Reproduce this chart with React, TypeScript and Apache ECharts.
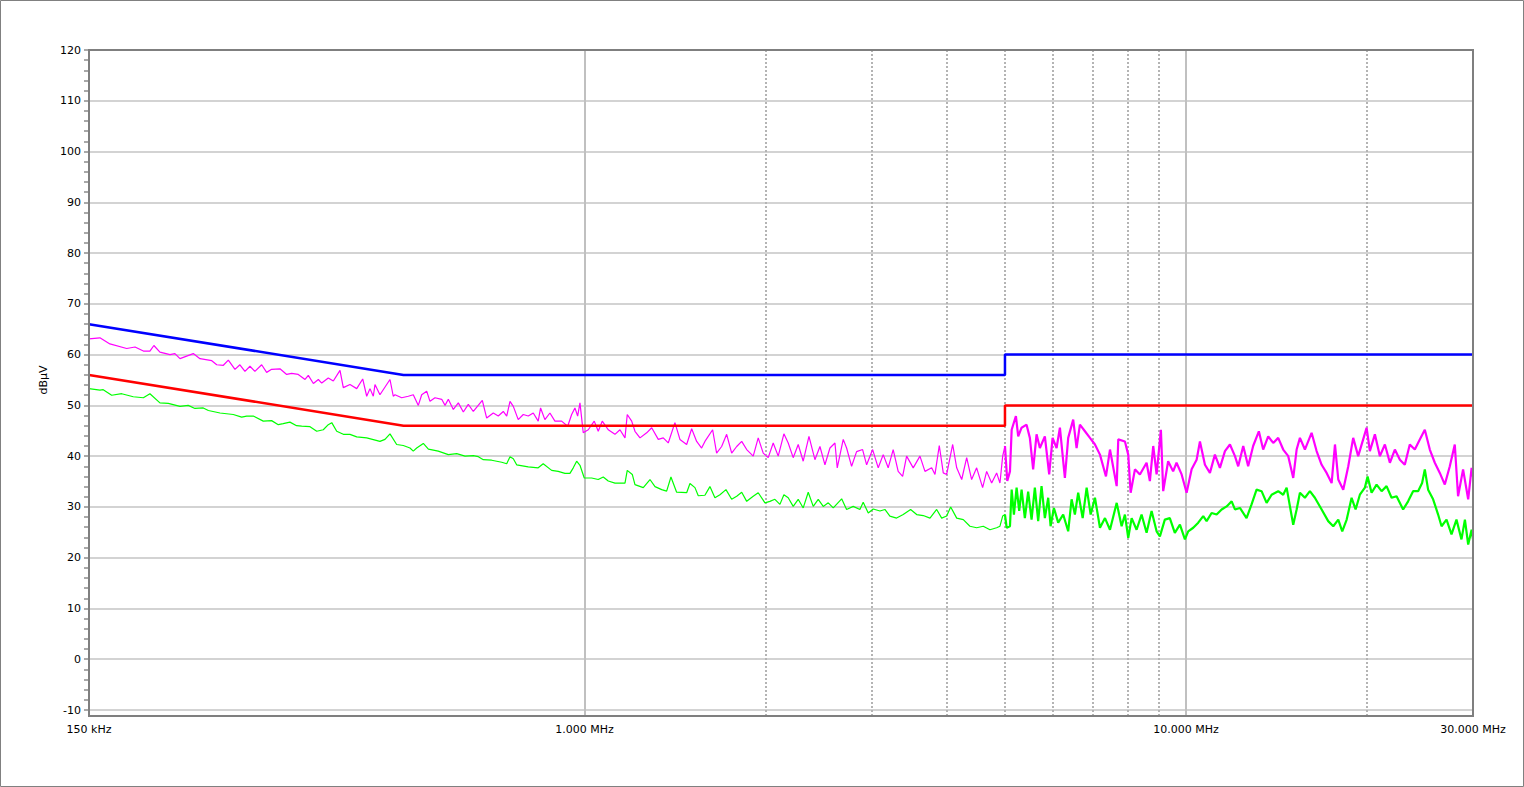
import React, { useEffect, useRef } from "react";
import * as echarts from "echarts";

// Frequencies in MHz, levels in dBµV
const X_LABEL_VALUES = [0.15, 1, 10, 30];
const SOLID_GRID_FREQ = [1, 10];
const DOTTED_GRID_FREQ = [2, 3, 4, 5, 6, 7, 8, 9, 20];
const BAND_START_MHZ = 5;

const QP_LIMIT: [number, number][] = [[0.15, 66], [0.5, 56], [5, 56], [5, 60], [30, 60]];
const AV_LIMIT: [number, number][] = [[0.15, 56], [0.5, 46], [5, 46], [5, 50], [30, 50]];

const PEAK: [number, number][] = [
  [0.15, 63.1], [0.1564, 63.3], [0.1625, 62.1], [0.1733, 61.2], [0.1789, 61.5], [0.1847, 60.7], [0.1894, 60.7], [0.1923, 61.8], [0.1968, 60.5], [0.2045, 60.0],
  [0.2084, 60.2], [0.2125, 59.2], [0.2236, 60.2], [0.2294, 59.2], [0.24, 58.8], [0.2446, 58.0], [0.2509, 57.9], [0.2557, 58.9], [0.2623, 57.1], [0.2673, 58.0],
  [0.2725, 56.7], [0.2778, 57.7], [0.2831, 56.7], [0.2905, 58.0], [0.2961, 56.5], [0.3018, 57.1], [0.3116, 57.2], [0.3197, 56.1], [0.3258, 56.3], [0.3342, 56.1],
  [0.343, 55.1], [0.3473, 55.9], [0.3541, 54.3], [0.3609, 55.1], [0.3656, 54.4], [0.3749, 55.4], [0.3822, 54.8], [0.3921, 56.9], [0.3971, 53.5], [0.4074, 54.1],
  [0.418, 53.3], [0.4277, 55.2], [0.4343, 51.8], [0.4398, 53.3], [0.4454, 51.8], [0.4483, 54.1], [0.4569, 52.1], [0.4748, 55.1], [0.4808, 51.8],
  [0.484, 52.1], [0.4966, 51.5], [0.5093, 51.8], [0.5191, 52.1], [0.5292, 50.0], [0.5361, 52.1], [0.5464, 52.8], [0.5534, 50.8], [0.5641, 51.5], [0.5788, 51.2],
  [0.5862, 50.0], [0.5936, 51.2], [0.6051, 49.2], [0.6168, 50.5], [0.6287, 48.7], [0.6408, 50.2], [0.6532, 48.8], [0.6761, 51.0], [0.6875, 47.5], [0.7051, 48.5],
  [0.7187, 47.9], [0.7326, 48.8], [0.7423, 47.9], [0.7517, 50.8], [0.7613, 49.8], [0.7758, 47.2], [0.7909, 48.2], [0.8061, 47.9], [0.8217, 48.5], [0.8374, 46.9],
  [0.8451, 49.5], [0.8591, 47.2], [0.8758, 48.5], [0.8928, 46.9], [0.9159, 46.9], [0.9374, 45.9], [0.9518, 48.2], [0.9638, 49.5], [0.9739, 47.9], [0.9826, 50.5],
  [0.995, 44.6], [1.0143, 45.2], [1.0378, 46.9], [1.0538, 44.9], [1.0701, 46.9], [1.095, 45.2], [1.1234, 44.3], [1.1451, 45.2], [1.1674, 43.6], [1.1776, 48.2],
  [1.1977, 46.9], [1.2129, 44.9], [1.2364, 43.6], [1.2685, 44.6], [1.293, 45.6], [1.3261, 43.3], [1.3517, 43.6], [1.3776, 42.6], [1.4134, 46.6], [1.4407, 43.3],
  [1.4783, 42.3], [1.5069, 45.4], [1.536, 42.9], [1.5654, 41.6],
  [1.5853, 42.9], [1.6328, 45.2], [1.6579, 40.6], [1.6902, 41.9], [1.7229, 44.3], [1.7563, 40.6], [1.7904, 41.9], [1.825, 42.9], [1.8603, 41.3], [1.9073, 40.0],
  [1.9441, 43.6], [1.9817, 40.6], [2.02, 39.7], [2.059, 42.6], [2.0988, 40.0], [2.145, 44.4], [2.1807, 42.6], [2.2228, 39.7], [2.2658, 42.3], [2.3096, 39.0],
  [2.3609, 43.9], [2.4156, 39.3], [2.4624, 41.9], [2.5099, 38.3], [2.5584, 41.6], [2.608, 42.6], [2.631, 37.7], [2.692, 43.3], [2.7269, 41.6], [2.7797, 38.0],
  [2.8333, 40.9], [2.8991, 41.3], [2.9442, 38.3], [3.0126, 41.3], [3.078, 37.7], [3.1374, 40.3], [3.1975, 37.7], [3.2592, 41.3], [3.3222, 37.0], [3.3792, 36.0],
  [3.4313, 40.0], [3.519, 37.7], [3.611, 40.0], [3.681, 37.0], [3.7767, 37.7], [3.8248, 36.4], [3.8883, 42.1], [3.9482, 36.7], [4.0, 36.4], [4.093, 42.3],
  [4.1565, 37.7], [4.237, 35.4], [4.3184, 39.7], [4.401, 35.4], [4.4862, 37.7], [4.5903, 33.8], [4.6615, 37.0], [4.7518, 34.7], [4.8433, 36.7],
  [4.905, 34.7], [4.9563, 40.0], [5.0, 42.0], [5.0443, 35.1], [5.0965, 37.0], [5.13, 45.2], [5.2139, 47.9], [5.2601, 43.9], [5.3285, 45.6], [5.4308, 46.2],
  [5.5, 43.6], [5.5696, 37.4], [5.643, 44.3], [5.7149, 41.6], [5.8251, 43.9], [5.9224, 36.4], [6.0, 43.6], [6.0924, 41.6], [6.1704, 45.6], [6.2892, 35.7],
  [6.3694, 43.6], [6.4925, 47.2], [6.5775, 41.6], [6.6612, 46.2], [6.7914, 44.9], [6.9226, 43.6], [7.0565, 42.3], [7.1932, 40.3], [7.3602, 36.0], [7.4742, 41.3],
  [7.6688, 34.1], [7.7153, 43.3], [7.9145, 42.9], [8.0153, 40.3], [8.0893, 32.8], [8.224, 37.4], [8.3813, 36.4], [8.5985, 38.7], [8.7074, 35.1], [8.8202, 42.0],
  [8.9347, 36.4], [9.0829, 45.2], [9.1635, 33.1], [9.3383, 39.0], [9.5182, 37.0], [9.6431, 38.7], [9.833, 36.4], [10.023, 32.8], [10.217, 37.4], [10.414, 39.3],
  [10.547, 42.9], [10.751, 38.3], [10.958, 36.7], [11.169, 40.3], [11.385, 37.7], [11.607, 41.0], [11.831, 42.3], [12.06, 40.0], [12.212, 38.0], [12.449, 42.0],
  [12.685, 38.0], [12.93, 42.0], [13.215, 44.9], [13.436, 41.3], [13.697, 43.9], [13.963, 42.6], [14.232, 43.6], [14.507, 41.3], [14.789, 40.0], [15.075, 35.7],
  [15.272, 41.3], [15.466, 43.6], [15.763, 41.3], [16.172, 44.6], [16.485, 41.0], [16.806, 38.3], [17.13, 36.7], [17.462, 34.7], [17.686, 42.3], [17.911, 35.4],
  [18.255, 33.4], [18.61, 38.0], [18.964, 43.6], [19.33, 40.0], [19.703, 43.3], [19.962, 45.6], [20.215, 41.0], [20.606, 44.3], [21.004, 40.0], [21.41, 42.3],
  [21.824, 38.7], [22.245, 41.3], [22.675, 39.3], [23.107, 38.3], [23.552, 42.3], [24.009, 41.3], [24.473, 43.3], [24.946, 45.2], [25.428, 41.3], [25.92, 38.7],
  [26.42, 36.7], [26.931, 34.4], [27.45, 38.0], [27.979, 42.3], [28.334, 32.1], [28.882, 37.4], [29.452, 31.5], [29.84, 37.7], [30, 36.0],
];

const AVERAGE: [number, number][] = [
  [0.15, 53.3], [0.1564, 53.0], [0.1584, 53.1], [0.1636, 52.0], [0.17, 52.3], [0.1777, 51.7], [0.1847, 51.5], [0.1894, 52.3], [0.1968, 50.5], [0.2032, 50.4],
  [0.2125, 49.8], [0.2193, 50.0], [0.225, 49.4], [0.2323, 49.5], [0.2369, 49.0], [0.2477, 48.5], [0.2606, 48.2], [0.2691, 47.7], [0.2743, 47.9], [0.2813, 47.9],
  [0.2923, 46.9], [0.3018, 47.0], [0.3096, 46.2], [0.3155, 46.4], [0.3237, 46.7], [0.3321, 46.0], [0.3386, 45.9], [0.3496, 45.8], [0.3587, 44.9], [0.3678, 45.2],
  [0.3749, 46.2], [0.3799, 46.6], [0.3872, 44.9], [0.3971, 44.3], [0.4074, 44.3], [0.418, 43.8], [0.4343, 43.6], [0.4569, 42.9], [0.4658, 43.3], [0.4748, 44.4],
  [0.4871, 42.3], [0.4996, 42.1], [0.5126, 41.6], [0.5191, 41.0], [0.5259, 41.6], [0.5394, 42.5], [0.55, 41.4], [0.5712, 41.0], [0.5936, 40.3], [0.613, 40.5],
  [0.6328, 40.0], [0.6532, 40.1], [0.6659, 39.9], [0.6787, 39.3], [0.7008, 39.2], [0.7283, 38.8], [0.7423, 38.5], [0.7517, 39.9], [0.7613, 39.5], [0.7711, 38.3],
  [0.8061, 37.9], [0.8374, 37.7], [0.8536, 38.5], [0.8816, 37.2], [0.9041, 37.0], [0.9277, 36.6], [0.9456, 36.6], [0.9577, 37.7], [0.9702, 39.0], [0.9826, 38.2],
  [0.9989, 35.7], [1.0276, 35.7], [1.0538, 35.4], [1.0742, 35.9], [1.095, 35.1], [1.1234, 34.7], [1.1674, 34.7], [1.1776, 37.2], [1.2005, 36.4], [1.2129, 34.4],
  [1.2521, 33.8], [1.2846, 35.4], [1.3095, 34.0], [1.3436, 33.4], [1.3692, 33.1], [1.392, 35.9], [1.4226, 32.9], [1.4783, 32.8], [1.4971, 34.6], [1.526, 33.8],
  [1.5455, 32.2], [1.5853, 32.3], [1.616, 34.0], [1.6472, 31.8], [1.6793, 32.4], [1.7184, 33.4], [1.7563, 31.5], [1.7904, 32.1], [1.825, 32.9], [1.8603, 31.1],
  [1.9073, 32.1], [1.9441, 32.8], [1.9949, 30.8], [2.0331, 31.1], [2.0724, 31.5], [2.1126, 30.5], [2.145, 32.4], [2.1807, 31.8], [2.2228, 30.1], [2.2658, 31.5],
  [2.3096, 29.8], [2.3544, 32.9], [2.4, 30.1], [2.4463, 31.5], [2.4936, 30.1], [2.5421, 30.8], [2.5911, 29.8], [2.6757, 31.6], [2.7269, 29.5], [2.7968, 30.1],
  [2.8694, 29.5], [2.9058, 30.9], [2.9627, 28.8], [3.0196, 29.6], [3.0981, 29.2], [3.1576, 29.5], [3.2184, 28.2], [3.3021, 27.8], [3.387, 28.5], [3.4843, 29.5],
  [3.5658, 28.5], [3.6569, 28.3], [3.7525, 27.8], [3.8496, 29.5], [3.924, 27.8], [4.0, 28.2], [4.0616, 30.0], [4.1565, 27.8], [4.263, 27.5], [4.3727, 26.2],
  [4.4862, 25.9], [4.6012, 26.2], [4.721, 25.5], [4.8433, 25.9], [4.905, 26.2], [4.9563, 28.2], [5.0, 28.5], [5.0326, 25.9], [5.0965, 26.2], [5.13, 33.4],
  [5.1744, 28.5], [5.2279, 33.8], [5.2802, 29.2], [5.3285, 33.4], [5.3955, 27.8], [5.4643, 33.0], [5.5359, 27.5], [5.6062, 33.8], [5.6779, 27.2], [5.7515, 34.1],
  [5.8251, 27.8], [5.9002, 31.8], [5.9542, 26.2], [6.0299, 29.8], [6.1302, 26.9], [6.2483, 28.5], [6.3694, 25.2], [6.4531, 31.5], [6.535, 28.5], [6.6178, 32.8],
  [6.7322, 27.8], [6.8356, 33.8], [6.9412, 28.5], [7.0565, 31.8], [7.1932, 25.9], [7.3327, 27.8], [7.4742, 25.5], [7.6688, 30.8], [7.8151, 26.2], [7.9145, 28.5],
  [8.0153, 23.9], [8.1206, 27.8], [8.2756, 25.5], [8.4352, 28.5], [8.5985, 24.9], [8.7651, 29.2], [8.9347, 25.2], [9.0484, 24.2], [9.2207, 27.5], [9.3988, 27.8],
  [9.5801, 24.9], [9.7691, 26.5], [9.958, 23.6], [10.084, 25.2], [10.28, 25.9], [10.478, 26.9], [10.681, 28.2], [10.82, 27.2], [11.029, 28.8], [11.243, 28.5],
  [11.46, 29.5], [11.683, 30.1], [11.909, 31.1], [12.06, 29.5], [12.293, 29.8], [12.607, 27.8], [12.852, 30.5], [13.1, 33.4], [13.354, 33.1], [13.613, 30.8],
  [13.877, 32.4], [14.232, 33.1], [14.507, 32.4], [14.698, 33.8], [14.886, 30.1], [15.075, 26.5], [15.272, 29.5], [15.466, 32.8], [15.763, 31.8], [16.067, 33.1],
  [16.377, 31.8], [16.806, 29.5], [17.234, 27.2], [17.57, 26.2], [17.911, 27.5], [18.187, 25.2], [18.497, 27.5], [18.848, 31.8], [19.139, 29.5], [19.455, 32.4],
  [19.833, 33.8], [20.038, 36.0], [20.348, 32.8], [20.74, 34.4], [21.142, 33.1], [21.549, 34.1], [21.966, 31.8], [22.39, 32.1], [22.958, 29.5], [23.4, 31.1],
  [23.853, 33.1], [24.314, 33.1], [24.689, 34.7], [24.946, 37.4], [25.264, 33.4], [25.752, 31.5], [26.25, 28.5], [26.596, 26.2], [27.108, 27.5], [27.63, 24.6],
  [28.161, 27.5], [28.705, 23.6], [29.085, 27.5], [29.452, 22.6], [29.84, 25.5], [30, 23.6],
];

function formatFreq(v: number): string {
  if (v < 1) return Math.round(v * 1000) + " kHz";
  return (Math.round(v * 1000) / 1000).toFixed(3) + " MHz";
}

const below = (d: [number, number][]) => d.filter((p) => p[0] <= BAND_START_MHZ);
const above = (d: [number, number][]) => d.filter((p) => p[0] >= BAND_START_MHZ);

export default function App() {
  const ref = useRef<HTMLDivElement>(null);

  useEffect(() => {
    document.body.style.margin = "0";
    const chart = echarts.init(ref.current!, null, { renderer: "svg" });
    const font = "DejaVu Sans";
    const trace = (data: [number, number][], color: string, width: number, z: number) => ({
      type: "line", xAxisIndex: 1, yAxisIndex: 1, data, symbol: "none", z,
      lineStyle: { color, width },
    });
    const option: any = {
      animation: false,
      backgroundColor: "#ffffff",
      textStyle: { fontFamily: font },
      grid: [
        { left: 89, right: 51, top: 50, bottom: 71, show: true, borderColor: "#7f7f7f", borderWidth: 2, backgroundColor: "transparent", z: 5 },
        { left: 89, right: 51, top: 50, bottom: 77, show: false },
      ],
      xAxis: [
        {
          type: "log", gridIndex: 0, logBase: 10, min: 0.15, max: 30,
          axisLine: { show: false }, axisTick: { show: false }, splitLine: { show: false },
          axisLabel: {
            customValues: X_LABEL_VALUES, formatter: formatFreq, fontSize: 11, color: "#000",
            fontFamily: font, margin: 8, showMinLabel: true, showMaxLabel: true, hideOverlap: false,
          },
        },
        { type: "log", gridIndex: 1, logBase: 10, min: 0.15, max: 30, show: false },
      ],
      yAxis: [
        { type: "value", gridIndex: 0, min: -11.2, max: 120, show: false },
        {
          type: "value", gridIndex: 1, min: -10, max: 120, interval: 10,
          name: "dBµV", nameLocation: "middle", nameRotate: 90, nameGap: 37,
          nameTextStyle: { fontSize: 11, color: "#000", fontFamily: font },
          axisLine: { show: false },
          axisTick: { show: true, length: 5, lineStyle: { color: "#a9a9a9", width: 2 } },
          minorTick: { show: true, splitNumber: 5, length: 5, lineStyle: { color: "#a9a9a9", width: 2 } },
          axisLabel: { fontSize: 11, color: "#000", fontFamily: font, margin: 8 },
          splitLine: { show: true, lineStyle: { color: "#d3d3d3", width: 2 } },
        },
      ],
      graphic: [
        {
          type: "rect", silent: true, z: 100,
          shape: { x: 0.5, y: 0.5, width: 1523, height: 786 },
          style: { fill: "none", stroke: "#808080", lineWidth: 1 },
        },
      ],
      series: [
        {
          type: "line", xAxisIndex: 0, yAxisIndex: 0, data: [[1, 0]], symbol: "none",
          lineStyle: { opacity: 0 }, silent: true, z: 1,
          markLine: {
            silent: true, z: 1, symbol: ["none", "none"], label: { show: false }, animation: false,
            data: [
              ...SOLID_GRID_FREQ.map((f) => ({ xAxis: f, lineStyle: { color: "#c0c0c0", width: 2, type: "solid" } })),
              ...DOTTED_GRID_FREQ.map((f) => ({ xAxis: f, lineStyle: { color: "#b4b4b4", width: 2, type: [2, 2] } })),
            ],
          },
        },
        trace(below(AVERAGE), "#00ff00", 1.2, 2),
        trace(above(AVERAGE), "#00ff00", 2.2, 2),
        trace(below(PEAK), "#ff00ff", 1.2, 3),
        trace(above(PEAK), "#ff00ff", 2.2, 3),
        trace(QP_LIMIT, "#0000ff", 2.5, 4),
        trace(AV_LIMIT, "#ff0000", 2.5, 4),
      ],
    };
    chart.setOption(option);
    return () => chart.dispose();
  }, []);

  return <div ref={ref} style={{ width: 1524, height: 787 }} />;
}
